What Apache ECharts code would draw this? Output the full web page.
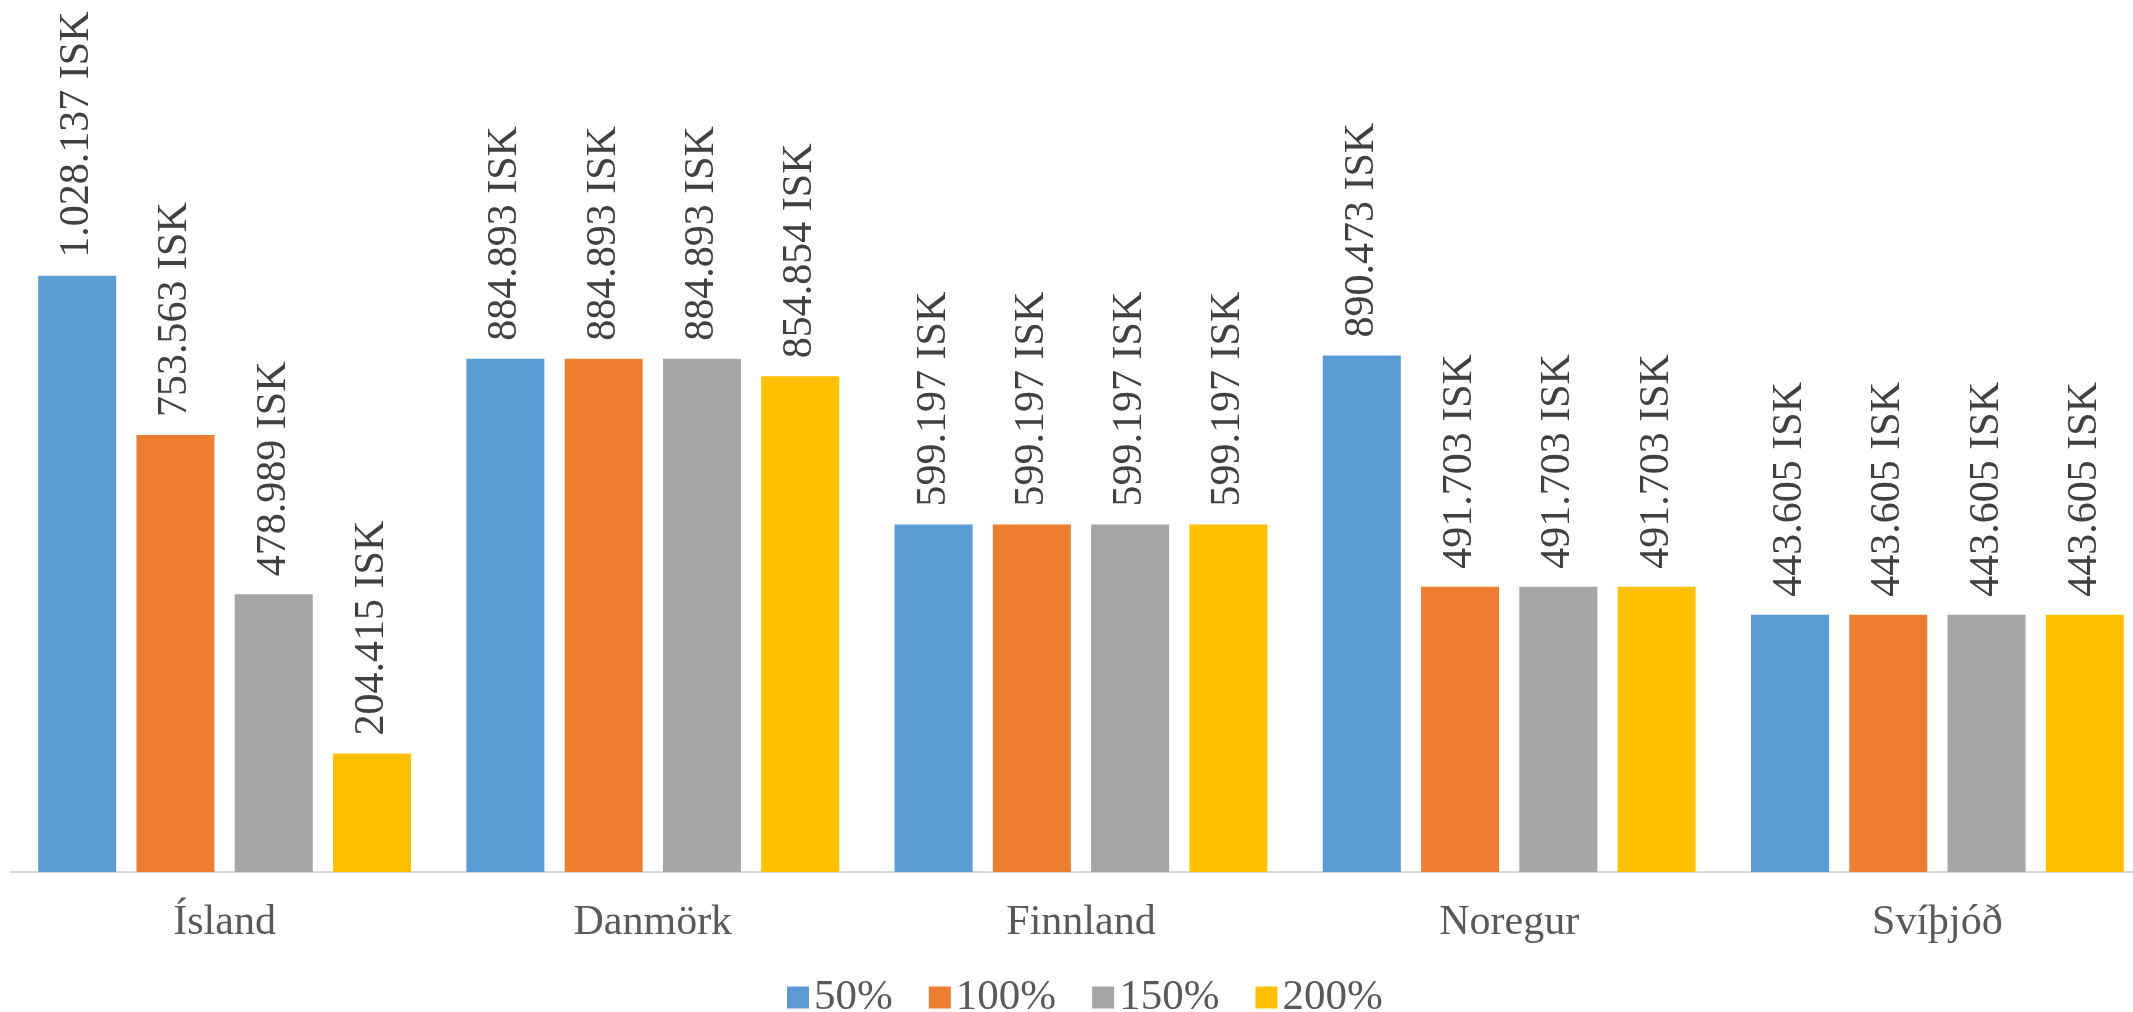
<!DOCTYPE html>
<html>
<head>
<meta charset="utf-8">
<script src="https://cdn.jsdelivr.net/npm/echarts@6/dist/echarts.min.js"></script>
<style>
  html, body { margin: 0; padding: 0; background: #fff; overflow: hidden; }
  #chart { width: 2133px; height: 1012px; }
</style>
</head>
<body>
<div id="chart"></div>
<script>
const categories = ["Ísland", "Danmörk", "Finnland", "Noregur", "Svíþjóð"];
const seriesNames = ["50%", "100%", "150%", "200%"];
const s50 = [1028137, 884893, 599197, 890473, 443605];
const s100 = [753563, 884893, 599197, 491703, 443605];
const s150 = [478989, 884893, 599197, 491703, 443605];
const s200 = [204415, 854854, 599197, 491703, 443605];
const colors = ["#5B9BD5", "#ED7D31", "#A5A5A5", "#FFC000"];

const font = "Liberation Serif";

// 1028137 -> "1.028.137 ISK"
function isk(v) {
  return String(v).replace(/\B(?=(\d{3})+(?!\d))/g, ".") + " ISK";
}

const chart = echarts.init(document.getElementById("chart"));

const makeSeries = (name, data, i) => ({
  name: name,
  type: "bar",
  data: data,
  barWidth: 78,
  barGap: "26%",
  itemStyle: { color: colors[i] },
  label: {
    show: true,
    position: "top",
    rotate: 90,
    align: "left",
    verticalAlign: "middle",
    distance: 18,
    fontFamily: font,
    fontSize: 42,
    color: "#404040",
    formatter: (p) => isk(p.value),
  },
});

chart.setOption({
  animation: false,
  textStyle: { fontFamily: font },
  legend: {
    data: seriesNames,
    left: 782,
    top: 971,
    itemWidth: 22,
    itemHeight: 22,
    itemGap: 36,
    icon: "rect",
    textStyle: { fontFamily: font, fontSize: 43, color: "#595959" },
  },
  grid: {
    left: 10.5,
    right: -18.5,
    top: 176,
    bottom: 140,
    outerBoundsMode: "none",
  },
  xAxis: {
    type: "category",
    data: categories,
    axisTick: { show: false },
    axisLine: { lineStyle: { color: "#d9d9d9", width: 2 } },
    axisLabel: {
      fontFamily: font,
      fontSize: 42,
      color: "#595959",
      margin: 30,
    },
  },
  yAxis: {
    type: "value",
    min: 0,
    max: 1200000,
    show: false,
    splitLine: { show: false },
  },
  series: [
    makeSeries(seriesNames[0], s50, 0),
    makeSeries(seriesNames[1], s100, 1),
    makeSeries(seriesNames[2], s150, 2),
    makeSeries(seriesNames[3], s200, 3),
  ],
});
</script>
</body>
</html>
